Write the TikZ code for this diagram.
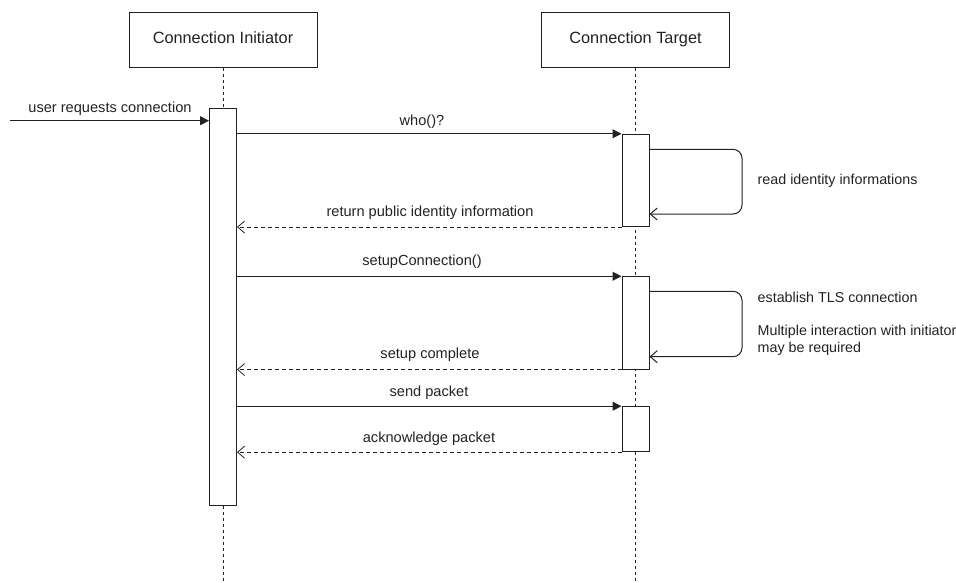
\documentclass[tikz,border=0pt]{standalone}
\usepackage{fontspec}
\setmainfont{Liberation Sans}
\usetikzlibrary{arrows.meta}

\definecolor{ink}{HTML}{222222}

\tikzset{
  head/.style={draw=ink, line width=1pt, fill=white, minimum width=188pt, minimum height=55pt,
               inner sep=0pt, text height=11.8pt, text depth=3.4pt,
               font=\fontsize{16.3}{19}\selectfont, text=ink},
  act/.style={draw=ink, line width=1pt, fill=white, minimum width=27pt, inner sep=0pt},
  lifeline/.style={draw=ink, line width=1pt, dash pattern=on 3pt off 3pt},
  call/.style={draw=ink, line width=1pt, -{Triangle[length=9pt,width=9pt]}},
  reply/.style={draw=ink, line width=0.8pt, dash pattern=on 4pt off 3pt, -{Straight Barb[length=7pt,width=12pt]}},
  selfcall/.style={draw=ink, line width=1pt, rounded corners=9pt, -{Straight Barb[length=7pt,width=12pt]}},
  msg/.style={font=\fontsize{14.6}{17}\selectfont, text=ink, inner sep=0pt},
  note/.style={font=\fontsize{14.3}{18}\selectfont, text=ink, inner sep=0pt, anchor=west, align=left}
}

\begin{document}
\begin{tikzpicture}[x=1pt, y=-1pt]
  \useasboundingbox (0,0) rectangle (956,582);

  % participants
  \node[head] (init) at (223,39.5) {Connection Initiator};
  \node[head] (targ) at (635.5,39.5) {Connection Target};

  % lifelines
  \coordinate (initEnd) at (223,582);
  \coordinate (targEnd) at (635.5,582);
  \draw[lifeline] (init.south) -- (initEnd);
  \draw[lifeline] (targ.south) -- (targEnd);

  % activation bars
  \node[act, minimum height=397pt] (ia) at (223,306.5) {};
  \node[act, minimum height=92.3pt] (ta1) at (635.5,180.4) {};
  \node[act, minimum height=92.3pt] (ta2) at (635.5,322.9) {};
  \node[act, minimum height=45pt] (ta3) at (635.5,429.2) {};

  % incoming request
  \coordinate (user) at (10,120.7);
  \draw[call] (user) -- (ia.west |- user);
  \node[msg] (userlbl) at (110,108.6) {user requests connection};

  % who()?
  \draw[call] (ia.east |- ta1.north west) -- (ta1.north west);
  \node[msg] (wholbl) at (422,121.5) {who()?};

  % self call: read identity
  \coordinate (l1a) at (742,149.3);
  \coordinate (l1b) at (742,214);
  \draw[selfcall] (ta1.east |- l1a) -- (l1a) -- (l1b) -- (ta1.east |- l1b);
  \node[note] (l1lbl) at (757.5,181) {read identity informations};

  % return identity
  \draw[reply] (ta1.south west) -- (ia.east |- ta1.south west);
  \node[msg] (retlbl) at (430,213) {return public identity information};

  % setupConnection()
  \draw[call] (ia.east |- ta2.north west) -- (ta2.north west);
  \node[msg] (setuplbl) at (422,262) {setupConnection()};

  % self call: TLS handshake
  \coordinate (l2a) at (742,291.3);
  \coordinate (l2b) at (742,356.7);
  \draw[selfcall] (ta2.east |- l2a) -- (l2a) -- (l2b) -- (ta2.east |- l2b);
  \node[note] (l2lbl) at (757.5,297) {establish TLS connection};
  \node[note, align=left, anchor=north west] (l2note) at (757.5,324.5) {Multiple interaction with initiator\\[-0.5pt]may be required};

  % setup complete
  \draw[reply] (ta2.south west) -- (ia.east |- ta2.south west);
  \node[msg] (donelbl) at (430,355) {setup complete};

  % send packet
  \draw[call] (ia.east |- ta3.north west) -- (ta3.north west);
  \node[msg] (sendlbl) at (429,393) {send packet};

  % acknowledge packet
  \draw[reply] (ta3.south west) -- (ia.east |- ta3.south west);
  \node[msg] (acklbl) at (429,439) {acknowledge packet};
\end{tikzpicture}
\end{document}
